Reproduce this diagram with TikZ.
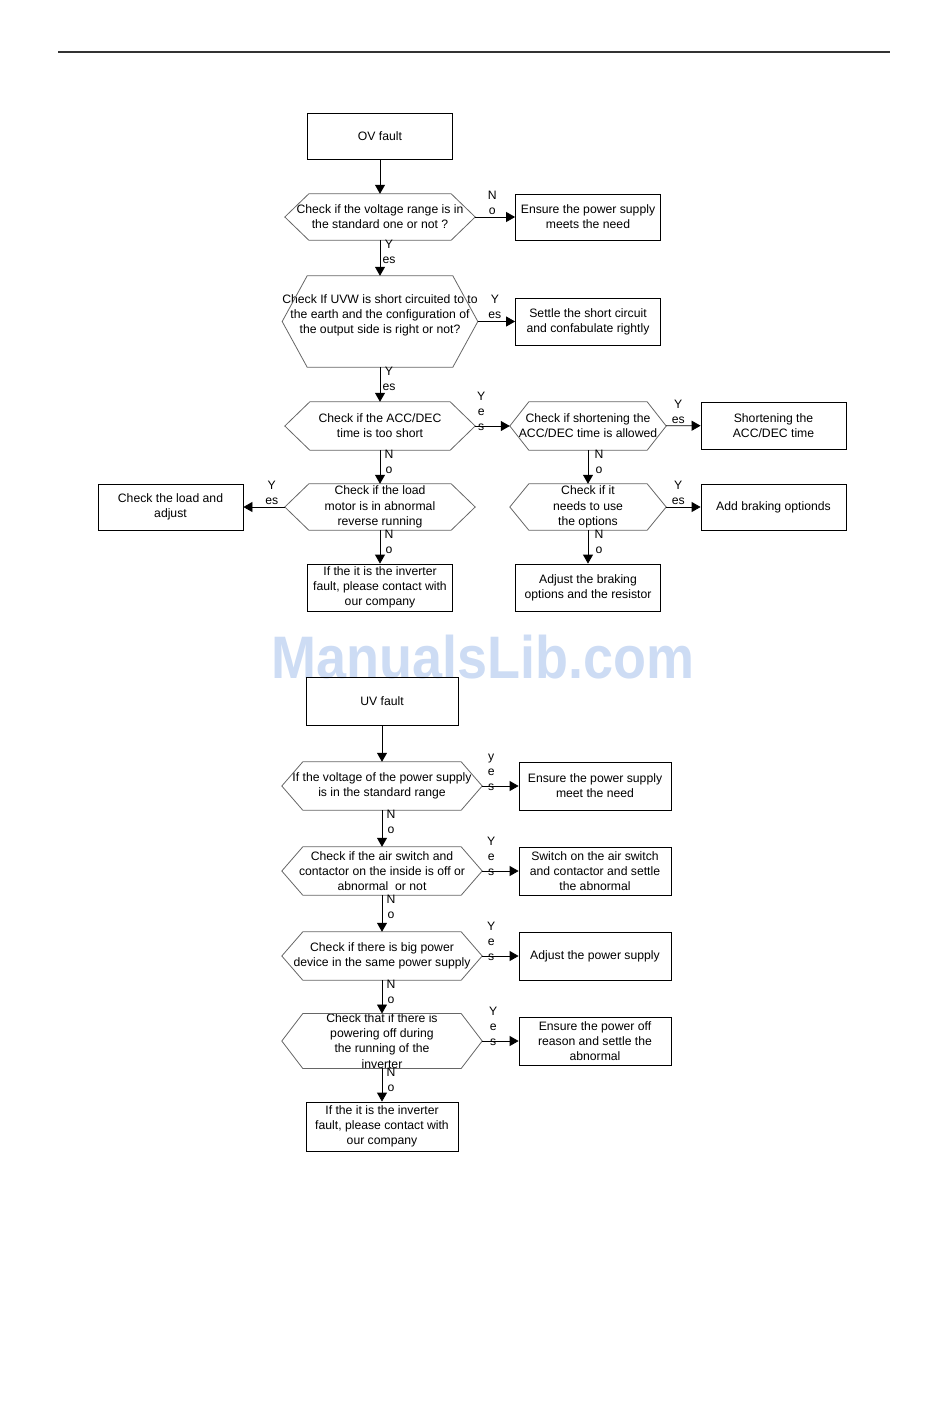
\documentclass[tikz,border=0pt]{standalone}
\usepackage{fontspec}
\setmainfont{Liberation Sans}
\usetikzlibrary{arrows.meta, calc}
\definecolor{wmblue}{RGB}{205,220,244}
\newcommand{\txt}{\fontsize{12.2}{15.2}\selectfont}
% hexagon round a decision node: name, inset
\newcommand{\hexframe}[2]{%
  \draw[hexline] (#1.west) -- ($(#1.north west)+(#2,0)$) -- ($(#1.north east)+(-#2,0)$)
    -- (#1.east) -- ($(#1.south east)+(-#2,0)$) -- ($(#1.south west)+(#2,0)$) -- cycle;}

\begin{document}
\begin{tikzpicture}[x=1pt,y=-1pt,
    box/.style={draw, line width=0.8pt, minimum width=145, minimum height=46, inner sep=0pt, align=center, font=\txt},
    bbox/.style={box, minimum width=152, minimum height=48},
    decision/.style={minimum width=190, minimum height=46, inner sep=0pt, align=center, font=\txt},
    bdec/.style={decision, minimum width=200, minimum height=48},
    hexline/.style={draw=black!60, line width=0.8pt},
    arr/.style={-{Triangle[length=9pt,width=10pt]}, line width=0.8pt},
    lab/.style={inner sep=0pt, align=center, font=\txt},
    vlab/.style={lab, at start, anchor=north, xshift=9pt, yshift=1pt},
    hlab/.style={lab, at start, anchor=south, yshift=2pt},
    slab/.style={lab, at start, anchor=south, yshift=-5pt}]
  \useasboundingbox (0,0) rectangle (950,1422);
  \draw[line width=2pt, black!80] (58,52) -- (890,52);
  % OV fault
  \node[box] (ov) at (380,136) {OV fault};
  \node[decision] (d1) at (380,217) {Check if the voltage range is in\\the standard one or not ?};
  \node[box] (b1) at (588,217) {Ensure the power supply\\meets the need};
  \node[decision, minimum height=91] (d2) at (380,321.5)
    {Check If UVW is short circuited to to\\the earth and the configuration of\\the output side is right or not?\\\mbox{}};
  \node[box, minimum height=47] (b2) at (588,321.5) {Settle the short circuit\\and confabulate rightly};
  \node[decision, minimum height=48] (d3) at (380,426) {Check if the ACC/DEC\\time is too short};
  \node[decision, minimum width=156, minimum height=48] (d4) at (588,426) {Check if shortening the\\ACC/DEC time is allowed};
  \node[box, minimum height=47] (b3) at (773.5,425.5) {Shortening the\\ACC/DEC time};
  \node[decision] (d5) at (380,507) {Check if the load\\motor is in abnormal\\reverse running};
  \node[box] (b4) at (170.5,507) {Check the load and\\adjust};
  \node[decision, minimum width=156] (d6) at (588,507) {Check if it\\needs to use\\the options};
  \node[box] (b6) at (773.5,507) {Add braking optionds};
  \node[box, minimum height=47] (b5) at (380,587.5) {If the it is the inverter\\fault, please contact with\\our company};
  \node[box, minimum height=47] (b7) at (588,587.5) {Adjust the braking\\options and the resistor};
  \node[inner sep=0pt, text=wmblue, font=\bfseries\fontsize{60}{62}\selectfont] (wm) at (483,657)
    {\scalebox{0.9}[1]{ManualsLib.com}};
  % UV fault
  \node[bbox] (uv) at (382,701) {UV fault};
  \node[bdec] (d7) at (382,786) {If the voltage of the power supply\\is in the standard range};
  \node[bbox] (b8) at (595,786) {Ensure the power supply\\meet the need};
  \node[bdec] (d8) at (382,871) {Check if the air switch and\\contactor on the inside is off or\\abnormal\ \ or not};
  \node[bbox] (b9) at (595,871) {Switch on the air switch\\and contactor and settle\\the abnormal};
  \node[bdec] (d9) at (382,956) {Check if there is big power\\device in the same power supply};
  \node[bbox] (b10) at (595,956) {Adjust the power supply};
  \node[bdec] (d10) at (382,1041) {Check that if there is\\powering off during\\the running of the\\inverter};
  \node[bbox] (b11) at (595,1041) {Ensure the power off\\reason and settle the\\abnormal};
  \node[bbox, minimum height=49] (b12) at (382,1126.5) {If the it is the inverter\\fault, please contact with\\our company};
  \foreach \n/\i in {d1/24, d2/25, d3/25, d4/19, d5/24, d6/19, d7/21, d8/21, d9/21, d10/21}
    \hexframe{\n}{\i};
  % vertical lines
  \draw[arr] (ov) -- (d1);
  \draw[arr] (d1) -- node[vlab] {Y\\es} (d2);
  \draw[arr] (d2) -- node[vlab] {Y\\es} (d3);
  \draw[arr] (d3) -- node[vlab] {N\\o} (d5);
  \draw[arr] (d5) -- node[vlab] {N\\o} (b5);
  \draw[arr] (d4) -- node[vlab, xshift=2pt] {N\\o} (d6);
  \draw[arr] (d6) -- node[vlab, xshift=2pt] {N\\o} (b7);
  \draw[arr] (uv) -- (d7);
  \draw[arr] (d7) -- node[vlab] {N\\o} (d8);
  \draw[arr] (d8) -- node[vlab] {N\\o} (d9);
  \draw[arr] (d9) -- node[vlab] {N\\o} (d10);
  \draw[arr] (d10) -- node[vlab] {N\\o} (b12);
  % horizontal lines
  \draw[arr] (d1) -- node[hlab, xshift=17pt] {N\\o} (b1);
  \draw[arr] (d2) -- node[hlab, xshift=17pt] {Y\\es} (b2);
  \draw[arr] (d3) -- node[slab, xshift=6pt] {Y\\e\\s} (d4);
  \draw[arr] (d4) -- node[hlab, xshift=12pt] {Y\\es} (b3);
  \draw[arr] (d5) -- node[hlab, xshift=-13pt] {Y\\es} (b4);
  \draw[arr] (d6) -- node[hlab, xshift=12pt] {Y\\es} (b6);
  \draw[arr] (d7) -- node[slab, xshift=9pt] {y\\e\\s} (b8);
  \draw[arr] (d8) -- node[slab, xshift=9pt] {Y\\e\\s} (b9);
  \draw[arr] (d9) -- node[slab, xshift=9pt] {Y\\e\\s} (b10);
  \draw[arr] (d10) -- node[slab, xshift=11pt] {Y\\e\\s} (b11);
\end{tikzpicture}
\end{document}
